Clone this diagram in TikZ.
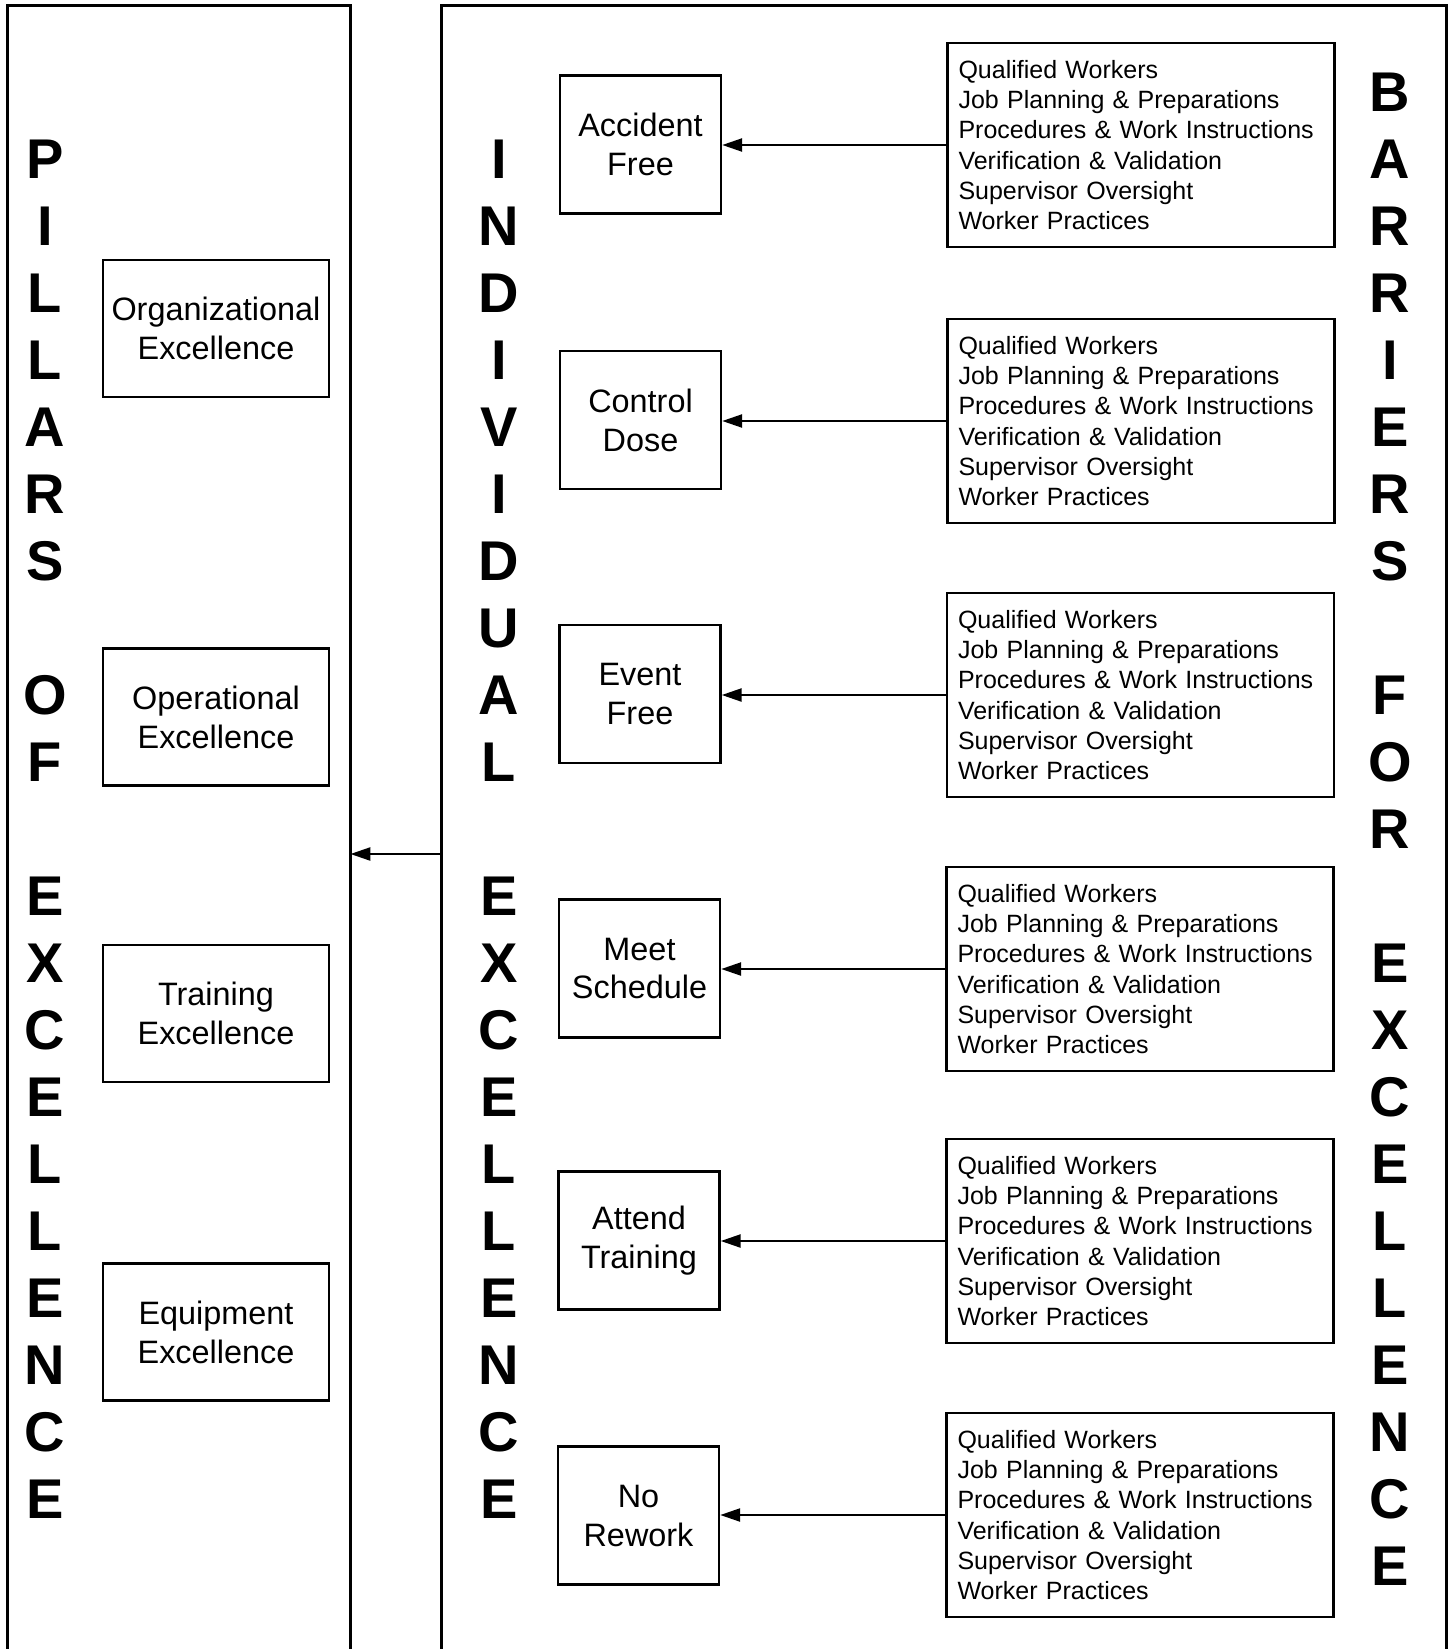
\documentclass[tikz,border=0pt]{standalone}
\usepackage{fontspec}
\setmainfont{Liberation Sans}
\usetikzlibrary{arrows.meta}
\hyphenpenalty=10000
\exhyphenpenalty=10000
\begin{document}
\begin{tikzpicture}[x=0.5pt,y=-0.5pt,
  panelline/.style={line width=1.4pt,line join=miter},
  panel/.style={inner sep=0pt,minimum width=171pt,minimum height=821.5pt},
  pillarbox/.style={draw,line width=1.2pt,minimum width=113pt,minimum height=68.5pt,inner sep=0pt,align=center,font=\fontsize{16.2}{19.5}\selectfont},
  indbox/.style={draw,line width=1.2pt,minimum width=80.5pt,minimum height=69pt,inner sep=0pt,align=center,font=\fontsize{16.2}{19.5}\selectfont},
  barbox/.style={draw,line width=1.2pt,minimum width=193.5pt,minimum height=102pt,inner xsep=5.5pt,inner ysep=0pt,text width=182.5pt,align=left,font=\fontsize{12.5}{15.1}\selectfont},
  bigletter/.style={inner sep=0pt,text height=20pt,text depth=0pt,font=\fontsize{28}{30}\selectfont\bfseries},
  arr/.style={line width=1.2pt,-{Triangle[length=10pt,width=6.5pt]}}]
\useasboundingbox (0,0) rectangle (1453,1649);
% panels (open at the bottom)
\node[panel,minimum width=171pt] (pil) at (179,827.5) {};
\node[panel,minimum width=502pt] (ind) at (944,827.5) {};
\draw[panelline] (pil.south west) |- (pil.north east) -- (pil.south east);
\draw[panelline] (ind.south west) |- (ind.north east) -- (ind.south east);
% pillar boxes
\node[pillarbox] (org) at (216,328.5) {Organizational\\Excellence};
\node[pillarbox] (ops) at (216,717) {Operational\\Excellence};
\node[pillarbox] (trn) at (216,1013.5) {Training\\Excellence};
\node[pillarbox] (eqp) at (216,1332) {Equipment\\Excellence};
% individual boxes
\node[indbox] (i1) at (640.5,144.5) {Accident\\Free};
\node[indbox] (i2) at (640.5,420) {Control\\Dose};
\node[indbox] (i3) at (640,694) {Event\\Free};
\node[indbox] (i4) at (639.5,968.5) {Meet\\Schedule};
\node[indbox] (i5) at (639,1240.5) {Attend\\Training};
\node[indbox] (i6) at (638.5,1515.5) {No\\Rework};
% barrier boxes
\newcommand{\barrierlist}{Qualified Workers\\Job Planning \& Preparations\\Procedures \& Work Instructions\\Verification \& Validation\\Supervisor Oversight\\Worker Practices}
\node[barbox] (b1) at (1141,145) {\barrierlist};
\node[barbox] (b2) at (1141,421) {\barrierlist};
\node[barbox] (b3) at (1140.5,695) {\barrierlist};
\node[barbox] (b4) at (1140,969) {\barrierlist};
\node[barbox] (b5) at (1140,1241) {\barrierlist};
\node[barbox] (b6) at (1140,1515) {\barrierlist};
% connectors
\foreach \k in {1,...,6}
  \draw[arr] (b\k.west) -- (b\k.west -| i\k.east);
\coordinate (mainy) at (0,854);
\draw[arr] (ind.west |- mainy) -- (pil.east |- mainy);
% vertical titles
\foreach \ch [count=\k from 0] in {P,I,L,L,A,R,S,{},O,F,{},E,X,C,E,L,L,E,N,C,E}
  \node[bigletter] (pl\k) at (45,158+67*\k) {\ch};
\foreach \ch [count=\k from 0] in {I,N,D,I,V,I,D,U,A,L,{},E,X,C,E,L,L,E,N,C,E}
  \node[bigletter] (il\k) at (499,158+67*\k) {\ch};
\foreach \ch [count=\k from 0] in {B,A,R,R,I,E,R,S,{},F,O,R,{},E,X,C,E,L,L,E,N,C,E}
  \node[bigletter] (bl\k) at (1390,91+67*\k) {\ch};
\end{tikzpicture}
\end{document}
